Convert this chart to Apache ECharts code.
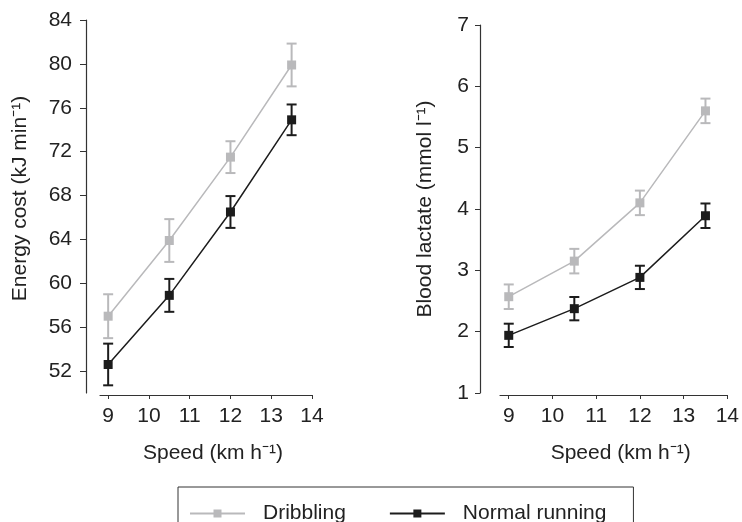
<!DOCTYPE html>
<html>
<head>
<meta charset="utf-8">
<script src="https://cdn.jsdelivr.net/npm/echarts@6/dist/echarts.min.js"></script>
<style>
  html, body { margin: 0; padding: 0; background: #fff; }
  #chart { width: 742px; height: 522px; }
</style>
</head>
<body>
<div id="chart"></div>
<script>
// speeds (km h-1)
const speeds = [9, 10.5, 12, 13.5]
const speedTicks = [9, 10, 11, 12, 13, 14]

// energy cost (kJ min-1), mean and SD
const energyDribbling = [57.0, 63.9, 71.5, 79.9]
const energyDribblingSd = [2.0, 1.95, 1.45, 1.95]
const energyNormal = [52.6, 58.9, 66.5, 74.9]
const energyNormalSd = [1.9, 1.5, 1.45, 1.4]
const energyTicks = [52, 56, 60, 64, 68, 72, 76, 80, 84]

// blood lactate (mmol l-1), mean and SD
const lactateDribbling = [2.57, 3.15, 4.1, 5.6]
const lactateDribblingSd = [0.2, 0.2, 0.2, 0.2]
const lactateNormal = [1.94, 2.375, 2.885, 3.89]
const lactateNormalSd = [0.19, 0.19, 0.19, 0.2]

const GRAY = '#b9b9bb'
const BLACK = '#1c1c1c'
const TEXT = '#222'
const FONT = 'Liberation Sans, Arial, sans-serif'
const FS = 21

const chart = echarts.init(document.getElementById('chart'), null, { renderer: 'canvas' })

function points (means) {
  return speeds.map((s, i) => [s, means[i]])
}
function bars (means, sds) {
  return speeds.map((s, i) => [s, means[i] - sds[i], means[i] + sds[i]])
}

// error bars drawn through the axes' coordinate system
function errorBar (color) {
  return function (params, api) {
    const x = api.value(0)
    const lo = api.coord([x, api.value(1)])
    const hi = api.coord([x, api.value(2)])
    const w = 5
    const style = { stroke: color, lineWidth: 2 }
    return {
      type: 'group',
      children: [
        { type: 'line', shape: { x1: lo[0], y1: lo[1], x2: hi[0], y2: hi[1] }, style },
        { type: 'line', shape: { x1: hi[0] - w, y1: hi[1], x2: hi[0] + w, y2: hi[1] }, style },
        { type: 'line', shape: { x1: lo[0] - w, y1: lo[1], x2: lo[0] + w, y2: lo[1] }, style }
      ]
    }
  }
}

const axisLine = { lineStyle: { color: '#333', width: 1.2 } }
const nameStyle = { fontFamily: FONT, fontSize: FS, color: TEXT }

function xAxis (gridIndex) {
  return {
    type: 'value',
    gridIndex,
    min: 8.8,
    max: 14,
    offset: 2,
    name: 'Speed (km h\u207B\u00B9)',
    nameLocation: 'middle',
    nameGap: 48,
    nameTextStyle: Object.assign({ padding: [0, 0, 0, 14] }, nameStyle),
    splitLine: { show: false },
    axisLine,
    axisTick: { length: 4, lineStyle: { color: '#333' }, customValues: speedTicks },
    axisLabel: { margin: 11, fontFamily: FONT, fontSize: FS, color: TEXT, customValues: speedTicks }
  }
}

chart.setOption({
  animation: false,
  grid: [
    { left: 100, top: 20, width: 212, height: 373 },
    { left: 500, top: 25, width: 229, height: 368 }
  ],
  xAxis: [xAxis(0), xAxis(1)],
  yAxis: [
    {
      type: 'value',
      gridIndex: 0,
      min: 50,
      max: 84,
      offset: 14,
      name: 'Energy cost (kJ min\u207B\u00B9)',
      nameLocation: 'middle',
      nameGap: 55,
      nameTextStyle: Object.assign({ padding: [0, 0, 0, 16] }, nameStyle),
      splitLine: { show: false },
      axisLine,
      axisTick: { length: 6, lineStyle: { color: '#333' }, customValues: energyTicks },
      axisLabel: { margin: 14, fontFamily: FONT, fontSize: FS, color: TEXT, customValues: energyTicks }
    },
    {
      type: 'value',
      gridIndex: 1,
      min: 1,
      max: 7,
      interval: 1,
      offset: 20,
      name: 'Blood lactate (mmol l\u207B\u00B9)',
      nameLocation: 'middle',
      nameGap: 44,
      nameTextStyle: nameStyle,
      splitLine: { show: false },
      axisLine,
      axisTick: { length: 5, lineStyle: { color: '#333' } },
      axisLabel: { margin: 11, fontFamily: FONT, fontSize: FS, color: TEXT }
    }
  ],
  legend: {
    data: ['Dribbling', 'Normal running'],
    left: 178,
    top: 487,
    itemWidth: 55,
    itemHeight: 10,
    itemGap: 43,
    padding: [16, 27, 20, 11],
    borderColor: '#333',
    borderWidth: 1,
    textStyle: { fontFamily: FONT, fontSize: FS, color: TEXT, padding: [0, 0, 0, 13] }
  },
  series: [
    {
      name: 'Dribbling SD', type: 'custom', xAxisIndex: 0, yAxisIndex: 0,
      renderItem: errorBar(GRAY), encode: { x: 0, y: [1, 2] },
      data: bars(energyDribbling, energyDribblingSd), z: 2
    },
    {
      name: 'Dribbling', type: 'line', xAxisIndex: 0, yAxisIndex: 0,
      data: points(energyDribbling), symbol: 'rect', symbolSize: 9,
      itemStyle: { color: GRAY }, lineStyle: { color: GRAY, width: 1.5 }, z: 3
    },
    {
      name: 'Normal running SD', type: 'custom', xAxisIndex: 0, yAxisIndex: 0,
      renderItem: errorBar(BLACK), encode: { x: 0, y: [1, 2] },
      data: bars(energyNormal, energyNormalSd), z: 4
    },
    {
      name: 'Normal running', type: 'line', xAxisIndex: 0, yAxisIndex: 0,
      data: points(energyNormal), symbol: 'rect', symbolSize: 9,
      itemStyle: { color: BLACK }, lineStyle: { color: BLACK, width: 1.5 }, z: 5
    },
    {
      name: 'Dribbling SD', type: 'custom', xAxisIndex: 1, yAxisIndex: 1,
      renderItem: errorBar(GRAY), encode: { x: 0, y: [1, 2] },
      data: bars(lactateDribbling, lactateDribblingSd), z: 2
    },
    {
      name: 'Dribbling', type: 'line', xAxisIndex: 1, yAxisIndex: 1,
      data: points(lactateDribbling), symbol: 'rect', symbolSize: 9,
      itemStyle: { color: GRAY }, lineStyle: { color: GRAY, width: 1.5 }, z: 3
    },
    {
      name: 'Normal running SD', type: 'custom', xAxisIndex: 1, yAxisIndex: 1,
      renderItem: errorBar(BLACK), encode: { x: 0, y: [1, 2] },
      data: bars(lactateNormal, lactateNormalSd), z: 4
    },
    {
      name: 'Normal running', type: 'line', xAxisIndex: 1, yAxisIndex: 1,
      data: points(lactateNormal), symbol: 'rect', symbolSize: 9,
      itemStyle: { color: BLACK }, lineStyle: { color: BLACK, width: 1.5 }, z: 5
    }
  ]
})
</script>
</body>
</html>
